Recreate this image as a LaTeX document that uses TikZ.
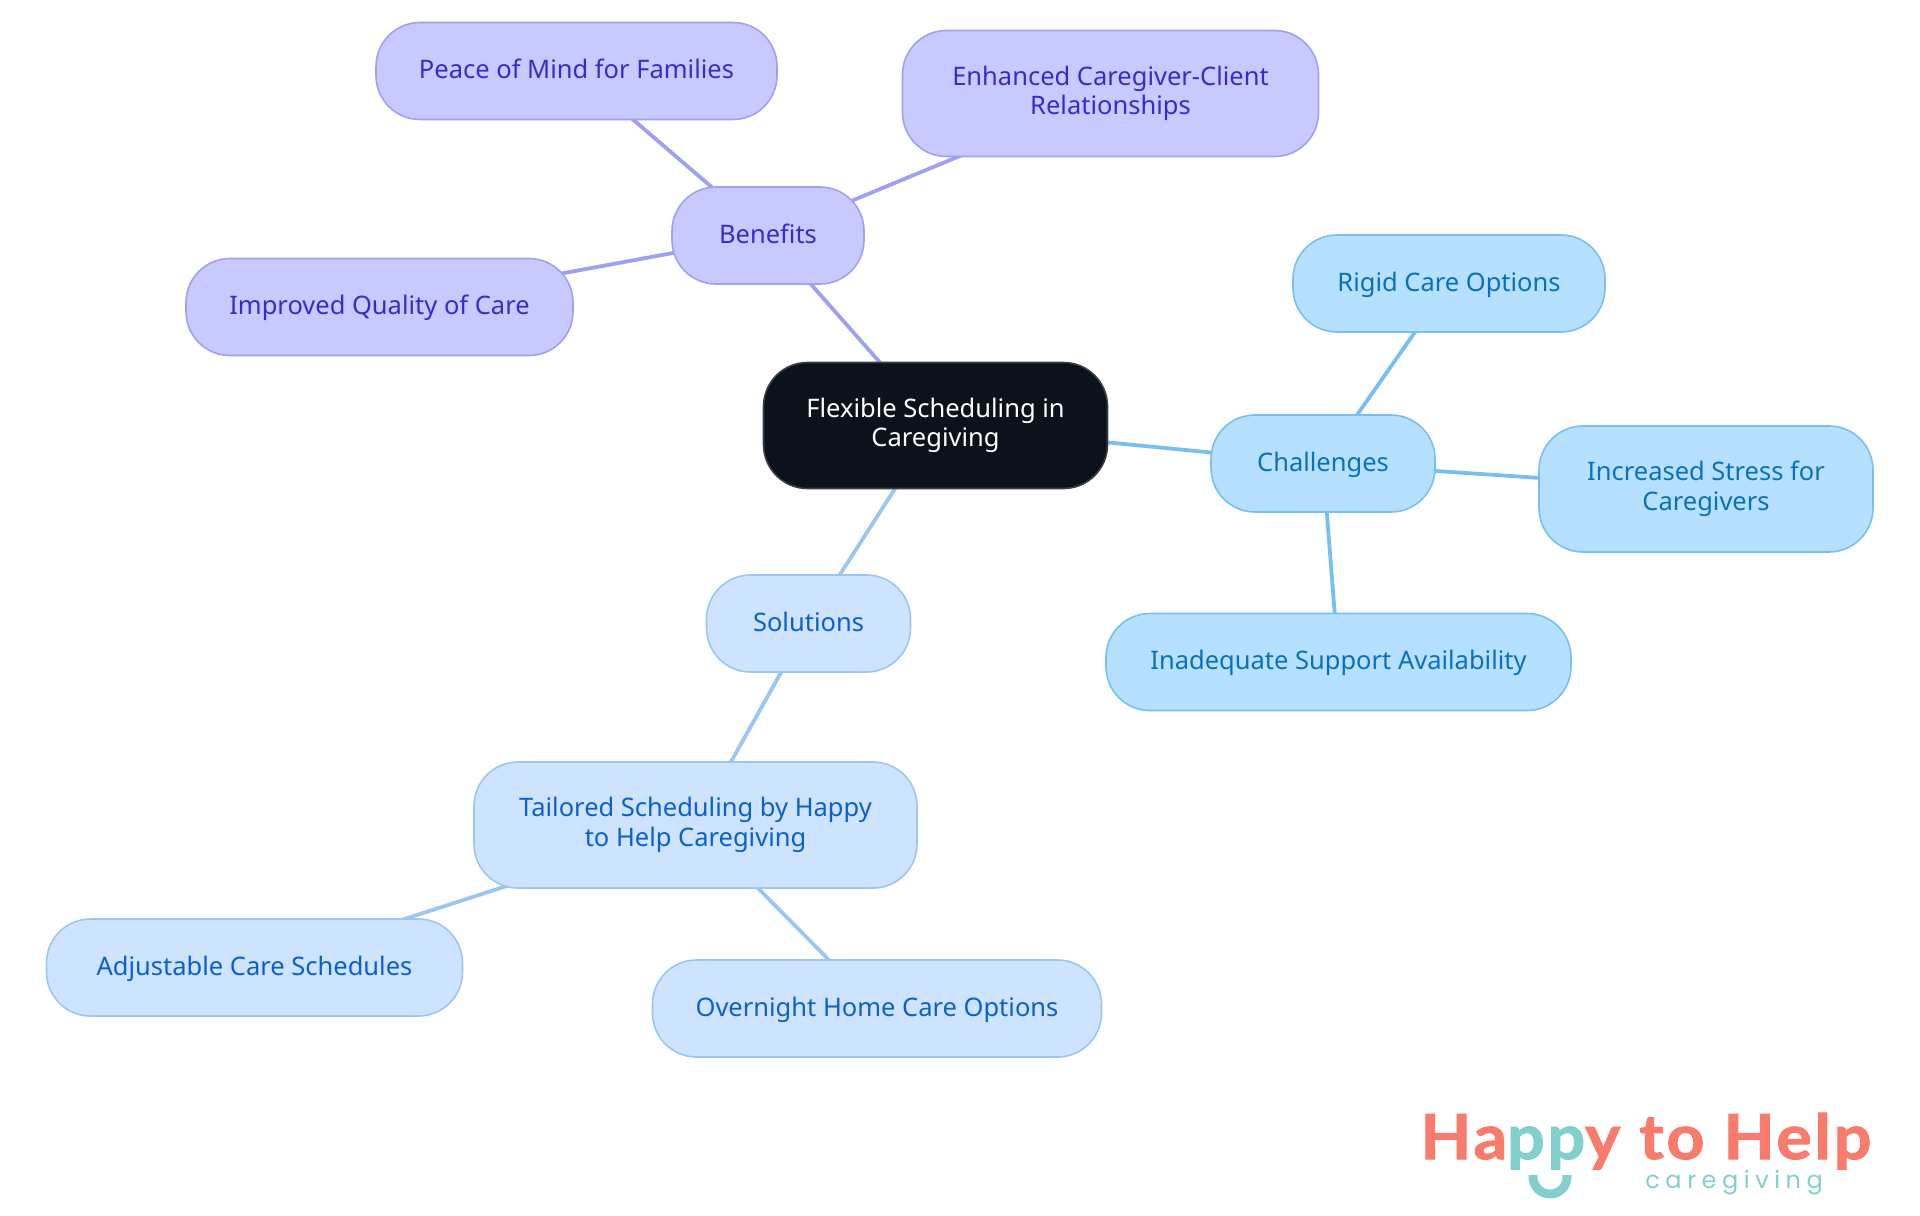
\documentclass[tikz,border=0pt]{standalone}
\usepackage{fontspec}
\setmainfont{Noto Sans}
\newfontfamily\logofont[BoldFeatures={FakeBold=1.6,FakeStretch=1.07,LetterSpace=4.5}]{Lato}
\newfontfamily\taglinefont{Poppins}
\usetikzlibrary{backgrounds}
\definecolor{rootfill}{HTML}{0B121B}
\definecolor{rootline}{HTML}{3A3F46}
\definecolor{benefitfill}{HTML}{C8CAFF}
\definecolor{benefitline}{HTML}{A0A0F0}
\definecolor{benefittext}{HTML}{3A2BC9}
\definecolor{challengefill}{HTML}{B5E0FF}
\definecolor{challengeline}{HTML}{78BFF0}
\definecolor{challengetext}{HTML}{0B70BC}
\definecolor{solutionfill}{HTML}{CEE3FD}
\definecolor{solutionline}{HTML}{9CC6F2}
\definecolor{solutiontext}{HTML}{0B60CC}
\definecolor{logocoral}{HTML}{F87B6C}
\definecolor{logoteal}{HTML}{82CFCE}
\newcommand{\boxstrut}{\rule[-3.2pt]{0pt}{14pt}}

\begin{document}
\begin{tikzpicture}[x=0.5pt, y=-0.5pt,
      every node/.style={align=center, inner sep=0pt},
      box/.style={draw, line width=0.8pt, rounded corners=22pt, font=\fontsize{12.75}{14.6}\selectfont,
        execute at begin node=\boxstrut, execute at end node=\boxstrut},
      rootbox/.style={box, fill=rootfill, draw=rootline, text=white},
      benefitbox/.style={box, fill=benefitfill, draw=benefitline, text=benefittext},
      challengebox/.style={box, fill=challengefill, draw=challengeline, text=challengetext},
      solutionbox/.style={box, fill=solutionfill, draw=solutionline, text=solutiontext},
      link/.style={line width=1.9pt}]
    \useasboundingbox (0,0) rectangle (1920,1215);
    \node[rootbox, minimum width=172pt, minimum height=63pt] (root) at (935.5,425.5) {Flexible Scheduling in\\Caregiving};

    \node[benefitbox, minimum width=96pt, minimum height=48.5pt] (benefits) at (768,235.5) {Benefits};
    \node[benefitbox, minimum width=200.5pt, minimum height=48.5pt] (peace) at (576.5,71) {Peace of Mind for Families};
    \node[benefitbox, minimum width=208pt, minimum height=63pt] (enhanced) at (1110.5,93.5) {Enhanced Caregiver-Client\\Relationships};
    \node[benefitbox, minimum width=193.5pt, minimum height=48.5pt] (improved) at (379.5,307) {Improved Quality of Care};

    \node[challengebox, minimum width=112pt, minimum height=48.5pt] (challenges) at (1323,463.5) {Challenges};
    \node[challengebox, minimum width=156pt, minimum height=48.5pt] (rigid) at (1449,283.5) {Rigid Care Options};
    \node[challengebox, minimum width=167pt, minimum height=63pt] (stress) at (1706,489) {Increased Stress for\\Caregivers};
    \node[challengebox, minimum width=232.5pt, minimum height=48.5pt] (support) at (1338.5,662) {Inadequate Support Availability};

    \node[solutionbox, minimum width=102pt, minimum height=48.5pt] (solutions) at (808.5,623.5) {Solutions};
    \node[solutionbox, minimum width=221.5pt, minimum height=63pt] (tailored) at (695.5,825) {Tailored Scheduling by Happy\\to Help Caregiving};
    \node[solutionbox, minimum width=208pt, minimum height=48.5pt] (adjustable) at (254.5,967.5) {Adjustable Care Schedules};
    \node[solutionbox, minimum width=224.5pt, minimum height=48.5pt] (overnight) at (877,1008.5) {Overnight Home Care Options};

    \begin{scope}[on background layer]
      \draw[link, benefitline] (root.center) -- (benefits.center);
      \draw[link, benefitline] (benefits.center) -- (peace.center);
      \draw[link, benefitline] (benefits.center) -- (enhanced.center);
      \draw[link, benefitline] (benefits.center) -- (improved.center);
      \draw[link, challengeline] (root.center) -- (challenges.center);
      \draw[link, challengeline] (challenges.center) -- (rigid.center);
      \draw[link, challengeline] (challenges.center) -- (stress.center);
      \draw[link, challengeline] (challenges.center) -- (support.center);
      \draw[link, solutionline] (root.center) -- (solutions.center);
      \draw[link, solutionline] (solutions.center) -- (tailored.center);
      \draw[link, solutionline] (tailored.center) -- (adjustable.center);
      \draw[link, solutionline] (tailored.center) -- (overnight.center);
    \end{scope}

    % logo
    \node[anchor=base west, font=\logofont\bfseries\fontsize{31}{32}\selectfont, text=logocoral, text depth=0pt] (logo) at (1420,1159) {Ha{\color{logoteal}pp}y to Help};
    \node[anchor=base west, font=\taglinefont\addfontfeature{LetterSpace=23}\fontsize{12}{14}\selectfont, text=logoteal, text height=6pt] (tagline) at (1645,1188) {caregiving};
    \draw[logoteal, line width=4.5pt] (1533,1175) -- (1533,1177) arc[start angle=180, end angle=0, radius=17] -- (1567,1175);
  \end{tikzpicture}
\end{document}
